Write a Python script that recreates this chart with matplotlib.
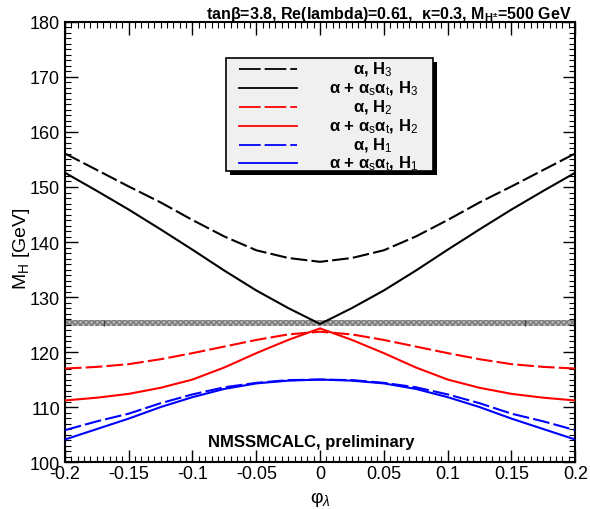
import matplotlib
matplotlib.use("Agg")
import matplotlib.pyplot as plt
from matplotlib.patches import Rectangle
from matplotlib.lines import Line2D
from matplotlib.ticker import MultipleLocator, FixedFormatter, FixedLocator

plt.rcParams['font.family'] = ['Liberation Sans', 'DejaVu Sans']
plt.rcParams['mathtext.fontset'] = 'custom'
plt.rcParams['mathtext.rm'] = 'Liberation Sans'
plt.rcParams['mathtext.it'] = 'Liberation Sans:italic'
plt.rcParams['mathtext.bf'] = 'Liberation Sans:bold'

# phi_lambda grid
phi = [-0.2, -0.175, -0.15, -0.125, -0.1, -0.075, -0.05, -0.025, 0.0,
       0.025, 0.05, 0.075, 0.1, 0.125, 0.15, 0.175, 0.2]

# masses [GeV]
h3_a = [156.1, 153.1, 150.1, 147.2, 144.0, 141.0, 138.5, 137.1, 136.4,
        137.1, 138.5, 141.0, 144.0, 147.2, 150.1, 153.1, 156.1]
h3_at = [152.6, 149.3, 145.9, 142.3, 138.6, 134.8, 131.2, 128.0, 125.1,
         128.0, 131.2, 134.8, 138.6, 142.3, 145.9, 149.3, 152.6]
h2_a = [117.0, 117.3, 117.8, 118.7, 119.8, 121.0, 122.2, 123.2, 123.7,
        123.2, 122.2, 121.0, 119.8, 118.7, 117.8, 117.3, 117.0]
h2_at = [111.2, 111.7, 112.4, 113.5, 115.0, 117.2, 119.8, 122.2, 124.3,
         122.2, 119.8, 117.2, 115.0, 113.5, 112.4, 111.7, 111.2]
h1_a = [105.8, 107.4, 108.8, 110.7, 112.3, 113.6, 114.4, 114.9, 115.0,
        114.9, 114.4, 113.6, 112.3, 110.7, 108.8, 107.4, 105.8]
h1_at = [104.1, 106.0, 107.9, 110.0, 111.8, 113.3, 114.3, 114.8, 115.0,
         114.8, 114.3, 113.3, 111.8, 110.0, 107.9, 106.0, 104.1]

# measured Higgs mass band and the two markers drawn inside it
band_lo, band_hi = 124.7, 125.8
band_marks = [-0.169, 0.161]

series = [
    (h3_a, 'black', 'dash', u'\u03b1, H$_3$'),
    (h3_at, 'black', 'solid', u'\u03b1 + \u03b1$_\\mathrm{s}$\u03b1$_\\mathrm{t}$, H$_3$'),
    (h2_a, 'red', 'dash', u'\u03b1, H$_2$'),
    (h2_at, 'red', 'solid', u'\u03b1 + \u03b1$_\\mathrm{s}$\u03b1$_\\mathrm{t}$, H$_2$'),
    (h1_a, 'blue', 'dash', u'\u03b1, H$_1$'),
    (h1_at, 'blue', 'solid', u'\u03b1 + \u03b1$_\\mathrm{s}$\u03b1$_\\mathrm{t}$, H$_1$'),
]
dash = (0, (8, 2))
dash_leg = (0, (12, 2.2))

fig = plt.figure(figsize=(5.9, 5.1), dpi=100)
ax = fig.add_axes([0.110, 0.092, 0.865, 0.863])

ax.axhspan(band_lo, band_hi, facecolor='#b8b8b8', edgecolor='#7a7a7a',
           hatch='xxxxxx', lw=0, zorder=1)
ax.vlines(band_marks, band_lo, band_hi, color='#404040', lw=1, zorder=2)

for vals, col, ls, lab in series:
    ax.plot(phi, vals, color=col, lw=1.5,
            linestyle=dash if ls == 'dash' else '-', zorder=3)

ax.set_xlim(-0.2, 0.2)
ax.set_ylim(100, 180)
ax.xaxis.set_major_locator(FixedLocator([-0.2, -0.15, -0.1, -0.05, 0, 0.05, 0.1, 0.15, 0.2]))
ax.xaxis.set_major_formatter(FixedFormatter(['-0.2', '-0.15', '-0.1', '-0.05', '0',
                                             '0.05', '0.1', '0.15', '0.2']))
ax.xaxis.set_minor_locator(MultipleLocator(0.005))
ax.yaxis.set_major_locator(MultipleLocator(10))
ax.yaxis.set_minor_locator(MultipleLocator(1))
ax.tick_params(which='both', direction='in', top=True, right=True, labelsize=13)
ax.tick_params(which='major', length=9, width=1)
ax.tick_params(which='minor', length=4.5, width=0.8)
ax.tick_params(axis='x', which='major', pad=2)
for s in ax.spines.values():
    s.set_linewidth(1.5)

ax.set_xlabel(u'\u03c6$_\u03bb$', fontsize=14)
ax.xaxis.set_label_coords(0.5, -0.062)
ax.set_ylabel('M$_\\mathrm{H}$ [GeV]', fontsize=14)
ax.yaxis.set_label_coords(-0.064, 0.486)

fig.text(0.969, 0.972, u'tan\u03b2=3.8, Re(lambda)=0.61,  \u03ba=0.3, M$_{\\mathbf{H^{\\pm}}}$=500 GeV',
         ha='right', va='center', fontsize=11.5, fontweight='bold')

ax.text(-0.007, 103.8, 'NMSSMCALC, preliminary', ha='center', va='center',
        fontsize=12, fontweight='bold', zorder=4)

# legend drawn by hand so the labels stay centred like the original
bx0, bx1, by0, by1 = 0.316, 0.7216, 0.661, 0.918
ax.add_patch(Rectangle((bx0 + 0.007, by0 - 0.008), bx1 - bx0, by1 - by0,
                       transform=ax.transAxes, facecolor='black', edgecolor='none', zorder=5))
ax.add_patch(Rectangle((bx0, by0), bx1 - bx0, by1 - by0, transform=ax.transAxes,
                       facecolor='#f0f0f0', edgecolor='black', lw=1.2, zorder=6))
rows = [0.893, 0.850, 0.807, 0.764, 0.720, 0.680]
for (vals, col, ls, lab), yy in zip(series, rows):
    ax.add_line(Line2D([0.341, 0.455], [yy, yy], transform=ax.transAxes, color=col,
                       lw=1.3, linestyle=dash_leg if ls == 'dash' else '-', zorder=7))
    ax.text(0.604, yy, lab, transform=ax.transAxes, ha='center', va='center',
            fontsize=12, fontweight='bold', zorder=7)

fig.savefig('out.png', dpi=100)
